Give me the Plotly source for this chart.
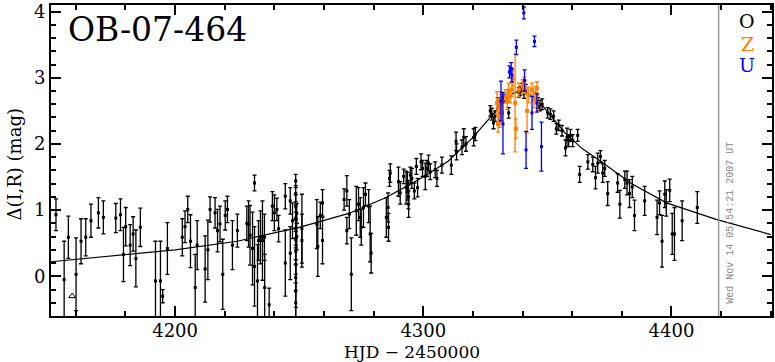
import plotly.graph_objects as go

# ---------------- data (HJD - 2450000, magnification in mag, error) ----------------
o_hjd = [4152.0, 4155.3, 4157.0, 4160.1, 4162.1, 4164.0, 4166.1, 4169.1, 4171.1, 4176.1,
         4178.0, 4179.2, 4180.1, 4181.9, 4183.1, 4184.2, 4186.0, 4192.1, 4194.1, 4195.0,
         4196.9, 4202.9, 4204.0, 4205.1, 4206.2, 4208.1, 4208.9, 4212.1, 4213.2, 4214.1,
         4216.1, 4217.1, 4218.1, 4219.2, 4220.2, 4221.1, 4223.1, 4225.1, 4228.9, 4229.6,
         4230.2, 4231.2, 4232.0, 4232.0, 4233.2, 4233.6, 4234.4, 4235.2, 4236.0, 4236.1,
         4237.9, 4239.2, 4240.0, 4241.0, 4241.7, 4244.4, 4244.4, 4246.4, 4246.4, 4247.3,
         4248.6, 4248.6, 4248.6, 4248.6, 4248.6, 4248.6, 4248.6, 4248.6, 4248.6, 4248.6,
         4248.6, 4249.0, 4249.0, 4251.1, 4251.1, 4257.1, 4257.5, 4258.5, 4259.4, 4259.4,
         4268.1, 4269.2, 4269.2, 4270.2, 4271.0, 4273.0, 4273.9, 4274.6, 4275.0, 4275.9,
         4276.7, 4278.0, 4278.6, 4279.0, 4285.1, 4285.8, 4286.0, 4286.7, 4286.4, 4290.0,
         4290.7, 4292.1, 4293.1, 4293.6, 4293.8, 4294.0, 4294.1, 4294.8, 4295.4, 4296.4,
         4297.2, 4297.7, 4299.1, 4299.7, 4300.8, 4301.5, 4302.1, 4302.8, 4304.8, 4305.5,
         4307.5, 4311.3, 4313.2, 4313.4, 4315.6, 4316.3, 4317.2, 4320.3, 4321.0, 4327.0,
         4327.6, 4328.3, 4328.9, 4330.0, 4331.0, 4332.0, 4334.4, 4338.5, 4339.1, 4339.8,
         4340.6, 4341.3, 4346.2, 4347.0, 4347.9, 4350.1, 4351.2, 4352.5, 4353.6, 4354.6,
         4355.9, 4357.3, 4357.9, 4358.6, 4359.3, 4360.2, 4362.2, 4363.0, 4366.3, 4368.3,
         4369.4, 4370.3, 4371.4, 4372.3, 4373.1, 4374.3, 4378.3, 4379.2, 4381.2, 4382.1,
         4383.1, 4384.2, 4385.1, 4389.2, 4394.2, 4395.2, 4396.2, 4397.3, 4397.9, 4399.3,
         4400.3, 4401.2, 4404.3, 4410.4]
o_mag = [0.93, -0.05, 0.59, 0.03, 0.53, 0.59, 0.84, 0.96, 0.89, 0.88,
         0.93, 0.33, 0.75, 0.47, 0.64, 0.27, 0.74, -0.07, -0.07, -0.30,
         0.42, 0.59, 0.75, 1.01, 0.53, -0.17, 0.47, 0.11, 0.40, 1.01,
         0.96, 0.69, 0.79, 0.03, 0.92, 1.01, 0.47, 0.69, 0.80, 0.79,
         0.62, 0.42, 0.15, 1.41, -0.07, 0.54, 0.59, 0.54, 0.59, -0.17,
         -0.43, 1.06, 0.96, 1.01, 0.72, 0.20, 1.21, 0.35, 1.14, 0.84,
         1.44, 1.25, 1.05, 0.88, 0.72, 0.55, 0.38, 0.18, -0.02, -0.22,
         -0.40, 0.95, 0.60, 0.54, 0.72, 0.79, 0.45, 0.92, 1.11, 0.54,
         1.16, 1.29, 0.69, 0.94, 0.03, 0.99, 1.09, 0.89, 0.74, 1.04,
         1.24, 1.06, 0.64, 0.35, 0.89, 1.04, 0.74, 1.56, 1.48, 1.43,
         1.26, 1.51, 1.34, 1.42, 1.30, 1.20, 1.09, 1.53, 1.48, 1.29,
         1.66, 1.34, 1.73, 1.63, 1.51, 1.63, 1.71, 1.58, 1.61, 1.48,
         1.68, 1.68, 2.04, 1.88, 1.95, 2.10, 2.00, 2.10, 2.15, 2.50,
         2.45, 2.32, 2.42, 2.62, 2.55, 2.70, 2.47, 2.78, 2.80, 2.85,
         2.76, 2.83, 2.62, 2.58, 2.60, 2.47, 2.45, 2.42, 2.23, 2.28,
         2.20, 1.94, 2.10, 2.05, 2.13, 2.05, 2.13, 1.54, 1.73, 1.69,
         1.49, 1.71, 1.81, 1.56, 1.63, 1.25, 1.41, 1.09, 1.46, 1.41,
         1.25, 1.35, 0.92, 1.14, 0.89, 1.11, 0.53, 1.24, 1.11, 1.30,
         0.64, 0.64, 0.84, 1.04]
o_err = [0.24, 0.58, 0.32, 0.55, 0.34, 0.28, 0.25, 0.23, 0.25, 0.22,
         0.24, 0.41, 0.29, 0.31, 0.26, 0.43, 0.29, 0.60, 0.60, 0.10,
         0.39, 0.28, 0.24, 0.20, 0.40, 0.50, 0.37, 0.50, 0.45, 0.19,
         0.23, 0.32, 0.27, 0.53, 0.22, 0.20, 0.37, 0.25, 0.26, 0.35,
         0.45, 0.55, 0.60, 0.12, 0.55, 0.30, 0.40, 0.60, 0.35, 0.50,
         0.25, 0.22, 0.27, 0.17, 0.20, 0.50, 0.19, 0.40, 0.20, 0.27,
         0.10, 0.12, 0.18, 0.20, 0.25, 0.30, 0.35, 0.40, 0.45, 0.40,
         0.30, 0.15, 0.20, 0.40, 0.52, 0.37, 0.45, 0.20, 0.20, 0.35,
         0.16, 0.23, 0.20, 0.22, 0.55, 0.37, 0.25, 0.30, 0.27, 0.30,
         0.17, 0.25, 0.42, 0.30, 0.30, 0.22, 0.21, 0.14, 0.12, 0.22,
         0.17, 0.11, 0.25, 0.15, 0.15, 0.18, 0.20, 0.12, 0.15, 0.12,
         0.12, 0.14, 0.12, 0.12, 0.20, 0.12, 0.12, 0.12, 0.12, 0.12,
         0.12, 0.14, 0.14, 0.12, 0.11, 0.13, 0.11, 0.13, 0.10, 0.08,
         0.09, 0.09, 0.08, 0.08, 0.08, 0.08, 0.08, 0.07, 0.07, 0.07,
         0.07, 0.07, 0.08, 0.08, 0.08, 0.08, 0.08, 0.08, 0.08, 0.08,
         0.08, 0.12, 0.14, 0.09, 0.09, 0.09, 0.09, 0.12, 0.11, 0.11,
         0.17, 0.15, 0.09, 0.14, 0.12, 0.18, 0.14, 0.21, 0.13, 0.18,
         0.21, 0.16, 0.23, 0.22, 0.26, 0.18, 0.39, 0.20, 0.20, 0.17,
         0.31, 0.40, 0.30, 0.24]

z_hjd = [4329.7, 4330.1, 4330.4, 4330.8, 4331.0, 4331.7, 4333.1, 4333.8, 4334.4, 4335.0,
         4335.7, 4336.0, 4337.0, 4337.3, 4338.5, 4340.0, 4340.5, 4341.0, 4341.8, 4342.5,
         4343.8, 4344.6, 4345.2, 4345.8, 4346.0]
z_mag = [2.62, 2.30, 2.52, 2.35, 2.67, 2.47, 2.72, 2.64, 2.80, 2.72,
         2.82, 2.99, 2.62, 2.23, 2.82, 2.87, 2.89, 2.86, 2.50, 2.74,
         2.82, 2.67, 2.77, 2.84, 2.62]
z_err = [0.17, 0.12, 0.15, 0.10, 0.12, 0.15, 0.10, 0.12, 0.12, 0.10,
         0.10, 0.12, 0.74, 0.15, 0.10, 0.10, 0.12, 0.10, 0.33, 0.12,
         0.10, 0.12, 0.10, 0.10, 0.12]

u_hjd = [4331.3, 4332.1, 4334.7, 4335.4, 4335.7, 4337.5, 4340.5, 4340.8, 4341.4, 4343.8,
         4344.8, 4345.8, 4347.6]
u_mag = [2.65, 2.30, 3.09, 3.14, 3.04, 3.46, 3.98, 2.96, 1.91, 2.47,
         3.55, 2.62, 1.96]
u_err = [0.30, 0.45, 0.09, 0.09, 0.10, 0.11, 0.09, 0.16, 0.28, 0.25,
         0.08, 0.14, 0.37]

# out-of-range markers drawn at the frame
low_hjd = [4158.5]
low_mag = [-0.30]
star_hjd = [4250.0]
star_mag = [-0.68]

# model curve
model_hjd = [4150, 4175, 4200, 4225, 4250, 4270, 4285, 4300, 4310, 4320,
             4328, 4333, 4336, 4339, 4342, 4345, 4348, 4352, 4357, 4364,
             4371, 4384, 4398, 4418, 4440]
model_mag = [0.22, 0.31, 0.40, 0.53, 0.74, 0.95, 1.19, 1.50, 1.74, 2.10,
             2.45, 2.66, 2.76, 2.81, 2.77, 2.69, 2.58, 2.40, 2.17, 1.93,
             1.75, 1.40, 1.11, 0.86, 0.63]

NOW_HJD = 4419
event_name = "OB-07-464"
timestamp = "Wed Nov 14 05:54:21 2007 UT"
x_title = "HJD − 2450000"
y_title = "Δ(I,R) (mag)"
observatories = ["O", "Z", "U"]
obs_colors = ["#000000", "#ff8000", "#0000ff"]

SERIF = "DejaVu Serif"

fig = go.Figure()

fig.add_trace(go.Scatter(x=model_hjd, y=model_mag, mode="lines",
                         line=dict(color="black", width=1.2), showlegend=False,
                         hoverinfo="skip"))

def pts(x, y, e, color, size):
    return go.Scatter(x=x, y=y, mode="markers",
                      marker=dict(symbol="square", size=size, color=color),
                      error_y=dict(type="data", array=e, visible=True,
                                   color=color, thickness=1.3, width=2),
                      showlegend=False)

fig.add_trace(pts(o_hjd, o_mag, o_err, obs_colors[0], 3))
fig.add_trace(pts(z_hjd, z_mag, z_err, obs_colors[1], 4))
fig.add_trace(pts(u_hjd, u_mag, u_err, obs_colors[2], 3))

fig.add_trace(go.Scatter(x=low_hjd, y=low_mag, mode="markers",
                         marker=dict(symbol="triangle-up-open", size=6, color="black",
                                     line=dict(width=1)),
                         showlegend=False))
fig.add_trace(go.Scatter(x=star_hjd, y=star_mag, mode="markers", cliponaxis=False,
                         marker=dict(symbol="asterisk-open", size=5, color="black",
                                     line=dict(width=1, color="black")),
                         showlegend=False))

fig.add_shape(type="line", x0=NOW_HJD, x1=NOW_HJD, xref="x", y0=0, y1=1, yref="paper",
              line=dict(color="#999999", width=1.5))

fig.add_annotation(text=event_name, x=0.021, y=0.921, xref="paper", yref="paper",
                   xanchor="left", yanchor="middle", showarrow=False,
                   font=dict(family=SERIF, size=33, color="black"))

leg_y = [0.949, 0.876, 0.806]
for name, col, yy in zip(observatories, obs_colors, leg_y):
    fig.add_annotation(text=name, x=0.9654, y=yy, xref="paper", yref="paper",
                       xanchor="center", yanchor="middle", showarrow=False,
                       font=dict(family=SERIF, size=19, color=col))

fig.add_annotation(text=timestamp, x=0.9425, y=0.298, xref="paper", yref="paper",
                   xanchor="center", yanchor="middle", showarrow=False, textangle=-90,
                   font=dict(family="Liberation Mono", size=10, color="#888888"))

# axis titles
fig.add_annotation(text=x_title, x=0.5, y=-0.115, xref="paper", yref="paper",
                   xanchor="center", yanchor="middle", showarrow=False,
                   font=dict(family=SERIF, size=17, color="black"))
fig.add_annotation(text=y_title, x=-0.05, y=0.49, xref="paper", yref="paper",
                   xanchor="center", yanchor="middle", showarrow=False, textangle=-90,
                   font=dict(family=SERIF, size=18, color="black"))

axis_common = dict(showline=True, linecolor="black", linewidth=2, mirror="ticks",
                   ticks="inside", tickcolor="black", tickwidth=1.5, showgrid=False,
                   zeroline=False, ticklabeloverflow="allow",
                   tickfont=dict(family=SERIF, size=18, color="black"))

fig.update_xaxes(range=[4150, 4440.5], tick0=4200, dtick=100, ticklen=10,
                 ticklabelstandoff=-3,
                 minor=dict(dtick=20, tick0=4200, ticklen=5, ticks="inside",
                            tickcolor="black", tickwidth=1.5, showgrid=False),
                 **axis_common)
fig.update_yaxes(range=[-0.6, 4.1], tick0=0, dtick=1, ticklen=10,
                 minor=dict(dtick=0.2, tick0=0, ticklen=5, ticks="inside",
                            tickcolor="black", tickwidth=1.5, showgrid=False),
                 **axis_common)

fig.update_layout(width=775, height=362, margin=dict(l=51, r=2, t=1, b=46),
                  paper_bgcolor="white", plot_bgcolor="white", showlegend=False)

fig.write_html("out.html", config={"displayModeBar": False},
               post_script="document.body.style.margin='0';")
